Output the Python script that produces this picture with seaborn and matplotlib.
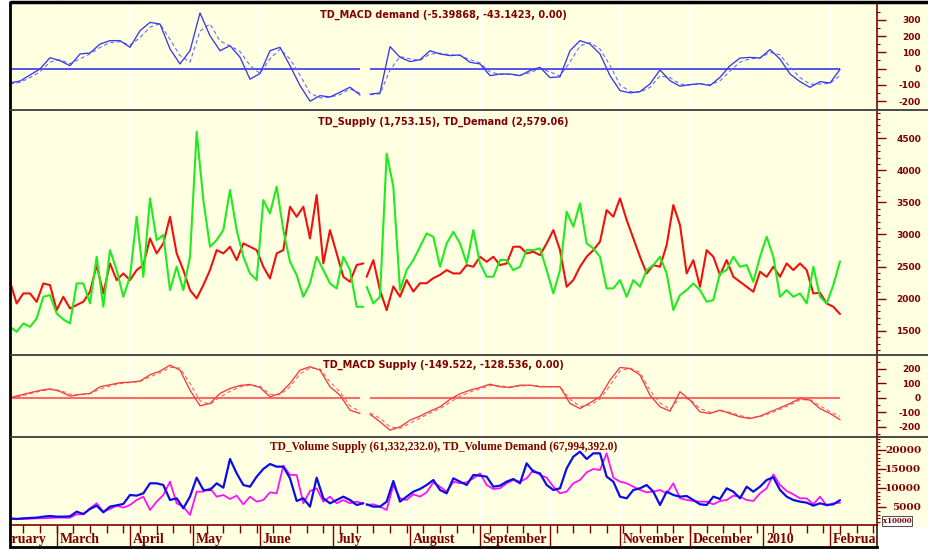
import numpy as np
import pandas as pd
import matplotlib
matplotlib.use("Agg")
import matplotlib.pyplot as plt
import seaborn as sns
from matplotlib.lines import Line2D
from matplotlib.patches import Rectangle
from matplotlib.ticker import FixedLocator, MultipleLocator
from matplotlib.transforms import blended_transform_factory, offset_copy

sns.set_theme(style="white")
plt.rcParams["font.family"] = ["DejaVu Sans"]

# ---------------- data (trading-day index, gap in mid July) ----------------
t2_pre = np.arange(0, 107, 2)
t2_post = np.arange(107, 250, 2)
t3_pre = np.arange(0, 106, 3)
t3_post = np.arange(108, 250, 3)

month_labels = ["February", "March", "April", "May", "June", "July", "August",
                "September", "", "November", "December", "2010", "February"]
month_starts = [-7, 14, 36, 55, 75, 97, 120, 141, 162, 183, 204, 226, 246]

macd_demand = [-88, -76, -39, -2, 67, 49, 18, 90, 96, 151, 172, 172, 131, 233, 284, 274, 121, 29,
               110, 342, 202, 110, 141, 70, -65, -30, 110, 131, 18, -104, -200, -166, -174, -145, -114, -162,
               -157, -149, 135, 70, 43, 55, 110, 90,
               80, 84, 39, 29, -43, -33, -33, -43, -12, 8,
               -55, -50, 110, 172, 151, 90, -43, -135, -149, -141,
               -94, -8, -74, -108, -98, -92, -104, -53, 18, 65,
               69, 65, 117, 59, -33, -80, -115, -80, -88, -5]
macd_demand_signal = [-95, -85, -55, -20, 40, 55, 30, 60, 90, 130, 160, 165, 145, 190, 255, 275, 180, 80,
                      40, 230, 275, 170, 140, 105, 20, -30, 60, 120, 60, -40, -150, -180, -175, -160, -125, -150,
                      -160, -155, -10, 75, 60, 50, 90, 95,
                      85, 80, 55, 35, -20, -35, -35, -40, -25, 0,
                      -20, -45, 40, 140, 160, 120, 20, -100, -140, -145,
                      -115, -45, -55, -95, -100, -95, -100, -75, -15, 40,
                      60, 65, 100, 85, 10, -55, -95, -95, -90, -43]

td_supply = [2263, 1925, 2081, 2081, 1950, 2237, 2211, 1821, 2029, 1847, 1900, 1951, 2107, 2523, 2081, 2549,
             2289, 2393, 2289, 2445, 2523, 2939, 2705, 2861, 3277, 2705, 2445, 2133, 2003, 2211, 2445, 2757,
             2705, 2809, 2601, 2861, 2809, 2757, 2497, 2315, 2705, 2757, 3433, 3277, 3433, 2939, 3615, 2549,
             3069, 2705, 2341, 2263, 2523, 2549,
             2340, 2600, 2130, 1820, 2190, 2030, 2290, 2110, 2240, 2240, 2320, 2370,
             2445, 2393, 2393, 2523, 2497, 2653, 2575, 2653, 2523, 2549,
             2809, 2809, 2705, 2731, 2679, 2861, 3069, 2757, 2185, 2289,
             2497, 2653, 2757, 2887, 3381, 3277, 3563, 3225, 2939, 2653,
             2393, 2523, 2497, 2835, 3459, 3147, 2393, 2601, 2185, 2757,
             2653, 2367, 2601, 2341, 2263, 2185, 2107, 2419, 2341, 2497,
             2341, 2549, 2445, 2549, 2445, 2081, 2091, 1925, 1873, 1760]
td_demand = [1561, 1483, 1613, 1561, 1691, 2029, 2055, 1769, 1675, 1613, 2237, 2237, 1925, 2653, 1873, 2757,
             2445, 2029, 2341, 3277, 2341, 3563, 2913, 2991, 2133, 2497, 2133, 2653, 4603, 3537, 2809, 2913,
             3069, 3693, 3069, 2653, 2393, 2289, 3537, 3329, 3745, 3069, 2575, 2367, 2029, 2237, 2653, 2445,
             2237, 2159, 2653, 2445, 1873, 1873,
             2185, 1925, 2029, 4260, 3745, 2133, 2445, 2601, 2809, 3017, 2965, 2497,
             2861, 3043, 2861, 2549, 3069, 2549, 2341, 2341, 2601, 2601,
             2445, 2497, 2757, 2757, 2783, 2445, 2081, 2445, 3355, 3121,
             3485, 2861, 2783, 2653, 2159, 2159, 2289, 2029, 2289, 2185,
             2445, 2523, 2653, 2393, 1821, 2055, 2133, 2237, 2133, 1951,
             1977, 2393, 2445, 2653, 2497, 2523, 2263, 2653, 2965, 2653,
             2029, 2133, 2029, 2081, 1925, 2497, 2029, 1925, 2211, 2580]

macd_supply = [0, 18, 35, 51, 62, 44, 12, 23, 30, 76, 90, 104, 108, 115, 159, 184, 225, 191,
               53, -55, -39, 30, 64, 85, 92, 71, 7, 30, 99, 191, 214, 191, 76, 18, -85, -108,
               -113, -165, -223, -200, -154, -126, -92, -62, -11, 28,
               53, 71, 94, 76, 71, 87, 87, 76, 76, 76,
               -39, -74, -34, 7, 122, 209, 202, 157, 18, -62,
               -92, 42, -16, -97, -108, -85, -108, -131, -143, -126,
               -97, -69, -39, -5, -16, -74, -108, -150]
macd_supply_signal = [0, 10, 28, 45, 57, 52, 25, 22, 28, 60, 82, 98, 105, 112, 145, 172, 210, 205,
                      100, -20, -45, 5, 45, 75, 88, 80, 25, 22, 75, 165, 205, 200, 110, 40, -55, -95,
                      -105, -140, -200, -210, -175, -140, -105, -75, -30, 10,
                      40, 62, 85, 82, 75, 82, 86, 80, 77, 77,
                      -10, -60, -50, -10, 85, 185, 205, 175, 50, -35,
                      -80, 0, -10, -75, -100, -90, -100, -122, -138, -130,
                      -108, -80, -50, -15, -12, -55, -95, -128]

vol_supply = [1846, 1846, 1846, 1934, 2022, 2022, 2110, 2197, 2197, 2197,
              3074, 3074, 4653, 5968, 3776, 4478, 5355, 4829, 5530, 6846,
              7723, 4215, 6407, 8161, 11669, 5968, 5092, 2899, 9038, 9038,
              9915, 7723, 8161, 7109, 7986, 5705, 7723, 6407, 6846, 8863,
              8600, 15878, 13423, 13423, 5968, 9213, 9915, 6407, 7723, 5968,
              6846, 5968, 6407, 5968,
              5530, 5705, 5092, 4215, 10792, 7284, 6846, 8337, 7723, 8863, 11495, 10354,
              9038, 11669, 11232, 11495, 12546, 13861, 10792, 9740, 9915, 11232,
              12108, 11669, 12546, 14739, 13423, 12721, 10354, 8600, 9038, 11232,
              12108, 14125, 15002, 14739, 19124, 12721, 11669, 11232, 10354, 9477,
              8863, 9038, 9477, 8600, 11232, 7284, 6846, 6583, 6407, 6407,
              5705, 6583, 6846, 7986, 7723, 6846, 6583, 8600, 9915, 13598,
              10792, 9213, 8337, 7284, 7284, 5705, 7723, 5355, 5968, 6130]
vol_demand = [2022, 1847, 2022, 2110, 2197, 2461, 2636, 2461, 2461, 2549,
              3776, 3162, 4478, 5355, 3601, 5092, 5443, 5794, 8161, 7986,
              8600, 11232, 11232, 10792, 6846, 7284, 4653, 7723, 12721, 9477,
              9477, 11232, 10091, 17632, 13861, 10792, 10354, 12984, 15002, 16317,
              15616, 15616, 12546, 6583, 7284, 5092, 12721, 7284, 5968, 6846,
              7723, 6846, 5530, 5968,
              5705, 5092, 5092, 6407, 11845, 6407, 7723, 9038, 9740, 10792, 12108, 9477,
              8600, 12546, 11669, 10792, 13423, 13247, 12984, 10354, 10617, 11669,
              12371, 11232, 16493, 14300, 13861, 10792, 9477, 9915, 15177, 18247,
              19562, 17632, 19124, 19124, 12984, 11669, 7723, 7284, 9477, 9915,
              10792, 9038, 5530, 9038, 8161, 7723, 7898, 6846, 5705, 5530,
              7723, 7109, 9915, 9038, 7284, 10354, 9038, 10354, 12108, 12809,
              9477, 7723, 6846, 6407, 6144, 5355, 5968, 5530, 5705, 6800]

titles = ["TD_MACD demand (-5.39868, -43.1423, 0.00)",
          "TD_Supply (1,753.15), TD_Demand (2,579.06)",
          "TD_MACD Supply (-149.522, -128.536, 0.00)",
          "TD_Volume Supply (61,332,232.0), TD_Volume Demand (67,994,392.0)"]


def frame(t_pre, t_post, vals):
    assert len(vals) == len(t_pre) + len(t_post), (len(vals), len(t_pre) + len(t_post))
    return pd.DataFrame({"t": np.concatenate([t_pre, t_post]), "v": vals,
                         "seg": [0] * len(t_pre) + [1] * len(t_post)})


# ---------------- layout ----------------
W, H = 929, 549
YEL = "#FFFFE1"
DR = "#800000"
fig = plt.figure(figsize=(W / 100, H / 100), dpi=100, facecolor="white")


def rect(x0, y0, x1, y1):
    return [x0 / W, 1 - y1 / H, (x1 - x0) / W, (y1 - y0) / H]


fig.patches.append(Rectangle((10 / W, 1 - 525 / H), (W - 10) / W, 523 / H,
                             transform=fig.transFigure, color=YEL, zorder=-5))

XL, XR = 10, 877
ax1 = fig.add_axes(rect(XL, 3, XR, 110))
ax2 = fig.add_axes(rect(XL, 110, XR, 355))
ax3 = fig.add_axes(rect(XL, 355, XR, 437))
ax4 = fig.add_axes(rect(XL, 437, XR, 525))
axm = fig.add_axes(rect(XL, 525, XR, 547))
XLIM = (0, 260.1)

sans_tick = dict(family="DejaVu Sans", weight="bold", size=6.5)
serif_tick = dict(family="DejaVu Serif", weight="bold", size=7.5)


def setup(ax, ylim, major, minor, labels, fprops):
    ax.set_facecolor(YEL)
    ax.set_xlim(*XLIM)
    ax.set_ylim(*ylim)
    for s in ["top", "left", "bottom"]:
        ax.spines[s].set_visible(False)
    ax.spines["right"].set_color(DR)
    ax.spines["right"].set_linewidth(1.2)
    ax.yaxis.tick_right()
    ax.set_yticks(major)
    ax.set_yticklabels(labels, ha="right", color=DR, fontdict=fprops)
    ax.yaxis.set_minor_locator(MultipleLocator(minor))
    ax.tick_params(axis="y", which="major", direction="out", length=6.5, width=1,
                   color=DR, pad=25.2)
    ax.tick_params(axis="y", which="minor", direction="out", length=2.5, width=0.8, color=DR)
    ax.set_xticks([])
    ax.set_xlabel("")
    ax.set_ylabel("")
    for m in month_starts:
        ax.axvline(m, color="white", lw=0.9, zorder=0.5)


def draw(ax, df, color, lw, ls="-"):
    sns.lineplot(data=df, x="t", y="v", units="seg", estimator=None, color=color,
                 linewidth=lw, linestyle=ls, ax=ax, legend=False, sort=False)


def zero_line(ax, t_pre, t_post, color, lw):
    ax.hlines([0, 0], [t_pre[0], t_post[0]], [t_pre[-1], t_post[-1]], color=color, lw=lw, zorder=1.8)


# panel 1
zero_line(ax1, t3_pre, t3_post, "#2424F0", 1.1)
draw(ax1, frame(t3_pre, t3_post, macd_demand_signal), "#6A6AFF", 0.8, (0, (3.5, 2.5)))
draw(ax1, frame(t3_pre, t3_post, macd_demand), "#3838F0", 0.95)
setup(ax1, (-254, 403), [-200, -100, 0, 100, 200, 300], 50,
      ["-200", "-100", "0", "100", "200", "300"], sans_tick)

# panel 2
draw(ax2, frame(t2_pre, t2_post, td_supply), "#F01010", 1.5)
draw(ax2, frame(t2_pre, t2_post, td_demand), "#20EA20", 1.5)
setup(ax2, (1121, 4941), [1500, 2000, 2500, 3000, 3500, 4000, 4500], 100,
      ["1500", "2000", "2500", "3000", "3500", "4000", "4500"], sans_tick)

# panel 3
zero_line(ax3, t3_pre, t3_post, "#FF6A6A", 1.5)
draw(ax3, frame(t3_pre, t3_post, macd_supply_signal), "#FF6060", 0.8, (0, (3.5, 2.5)))
draw(ax3, frame(t3_pre, t3_post, macd_supply), "#F03C3C", 0.95)
setup(ax3, (-270, 295), [-200, -100, 0, 100, 200], 50,
      ["-200", "-100", "0", "100", "200"], sans_tick)

# panel 4
draw(ax4, frame(t2_pre, t2_post, vol_supply), "#FF10FF", 1.3)
draw(ax4, frame(t2_pre, t2_post, vol_demand), "#0C0CE8", 1.6)
setup(ax4, (263, 23421), [5000, 10000, 15000, 20000], 1000,
      ["5000", "10000", "15000", "20000"], serif_tick)

# titles
for ax, txt, yy, fam, fs in [(ax1, titles[0], 0.888, "DejaVu Sans", 7),
                             (ax2, titles[1], 0.951, "DejaVu Sans", 7),
                             (ax3, titles[2], 0.878, "DejaVu Sans", 7),
                             (ax4, titles[3], 0.886, "Liberation Serif", 8.3)]:
    ax.text(0.5, yy, txt, transform=ax.transAxes, ha="center", va="center", color=DR,
            fontsize=fs, fontweight="bold", family=fam, zorder=1.5)

# month row
axm.set_facecolor(YEL)
axm.set_xlim(*XLIM)
axm.set_ylim(0, 1)
axm.set_yticks([])
axm.set_xlabel("")
axm.spines["top"].set_color(DR)
axm.spines["top"].set_linewidth(1.2)
axm.spines["bottom"].set_color("black")
axm.spines["bottom"].set_linewidth(2)
axm.spines["left"].set_visible(False)
axm.spines["right"].set_color("#202020")
axm.spines["right"].set_linewidth(1.2)
axm.xaxis.set_ticks_position("top")
axm.set_xticks([])
axm.xaxis.set_minor_locator(FixedLocator(np.arange(-1, 260, 5)))
axm.tick_params(axis="x", which="minor", direction="in", length=5.5, width=1, color=DR, top=True)
trans = offset_copy(blended_transform_factory(axm.transData, axm.transAxes), fig=fig, x=2, y=0, units="points")
for m, lab in zip(month_starts, month_labels):
    axm.axvline(m, color=DR, lw=1.0)
    axm.text(m, 0.33, lab, transform=trans, ha="left", va="center", color=DR, fontsize=10,
             fontweight="bold", family="Liberation Serif", clip_on=True)

# frame and separators
def fline(x0, y0, x1, y1, color, lw):
    fig.add_artist(Line2D([x0 / W, x1 / W], [1 - y0 / H, 1 - y1 / H], transform=fig.transFigure,
                          color=color, lw=lw, solid_capstyle="butt"))


fline(10, 2, W, 2, "black", 2.5)
fline(10, 1, 10, 547, "black", 2)
for yy in (110, 355, 437):
    fline(10, yy, W, yy, "#3C3C3C", 1.3)

fig.text(897 / W, 1 - 521 / H, "x10000", ha="center", va="center", fontsize=5,
         fontweight="bold", family="DejaVu Serif", color=DR,
         bbox=dict(boxstyle="square,pad=0.15", fc="white", ec="#303030", lw=0.6))

fig.savefig("out.png", dpi=100, facecolor="white")
